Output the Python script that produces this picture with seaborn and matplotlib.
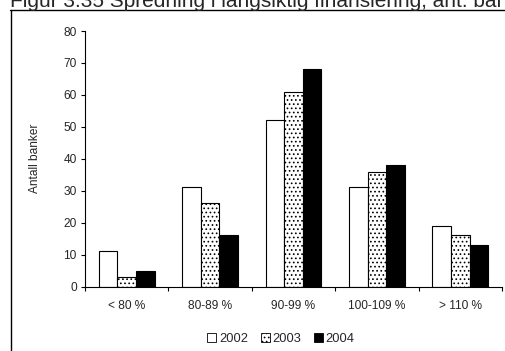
import matplotlib
matplotlib.use("Agg")
import matplotlib.pyplot as plt
from matplotlib.lines import Line2D
from matplotlib.patches import Patch
import seaborn as sns
import pandas as pd

# Spread in long-term funding ratio, number of banks per interval
categories = ["< 80 %", "80-89 %", "90-99 %", "100-109 %", "> 110 %"]
years = ["2002", "2003", "2004"]
banks_2002 = [11, 31, 52, 31, 19]
banks_2003 = [3, 26, 61, 36, 16]
banks_2004 = [5, 16, 68, 38, 13]
y_ticks = [0, 10, 20, 30, 40, 50, 60, 70, 80]
title = "Figur 3.35 Spredning i langsiktig finansiering, ant. banker"
y_label = "Antall banker"

df = pd.DataFrame({
    "kategori": categories * 3,
    "år": [years[0]] * 5 + [years[1]] * 5 + [years[2]] * 5,
    "antall": banks_2002 + banks_2003 + banks_2004,
})

sns.set_style("white")
plt.rcParams["font.family"] = ["Liberation Sans", "DejaVu Sans"]
plt.rcParams["hatch.linewidth"] = 0.7
plt.rcParams["hatch.color"] = "#444444"

W, H = 505, 351
fs = 8.6
fig = plt.figure(figsize=(W / 100, H / 100), dpi=100)
ax = fig.add_axes([85 / W, 1 - 286.5 / H, (502 - 85) / W, (286.5 - 31) / H])

fills = {"2002": "white", "2003": "white", "2004": "black"}
sns.barplot(data=df, x="kategori", y="antall", hue="år", order=categories,
            hue_order=years, palette=fills, width=0.67, edgecolor="black",
            linewidth=0.8, legend=False, ax=ax, saturation=1)

for bar in ax.containers[1]:
    bar.set_hatch("....")

ax.set_ylim(0, 80)
ax.set_xlim(-0.5, len(categories) - 0.5)
ax.set_yticks(y_ticks)
ax.set_xticks(range(len(categories)))
ax.set_xticklabels(categories)
ax.set_xticks([i - 0.5 for i in range(len(categories) + 1)], minor=True)
ax.set_xlabel("")
ax.set_ylabel(y_label, fontsize=fs, labelpad=16)
ax.tick_params(axis="y", which="major", direction="out", length=3, width=0.8,
               labelsize=fs, pad=3, left=True, color="black")
ax.tick_params(axis="x", which="major", length=0, labelsize=fs, pad=10)
ax.tick_params(axis="x", which="minor", direction="out", length=3, width=0.8,
               bottom=True, color="black")
for side in ["top", "right"]:
    ax.spines[side].set_visible(False)
for side in ["left", "bottom"]:
    ax.spines[side].set_color("black")
    ax.spines[side].set_linewidth(0.8)

handles = [Patch(facecolor="white", edgecolor="black", linewidth=0.6),
           Patch(facecolor="white", edgecolor="black", linewidth=0.6, hatch="...."),
           Patch(facecolor="black", edgecolor="black", linewidth=0.6)]
fig.legend(handles, years, loc="center", bbox_to_anchor=(281 / W, 1 - 339 / H),
           ncol=3, frameon=False, fontsize=9.3, handlelength=0.7,
           handleheight=0.7, handletextpad=0.2, columnspacing=1.0)

# Outer frame and caption
fig.add_artist(Line2D([10.5 / W, 10.5 / W], [0, 1 - 10 / H], color="black",
                      linewidth=1.0, transform=fig.transFigure))
fig.add_artist(Line2D([10 / W, 1], [1 - 10 / H, 1 - 10 / H], color="black",
                      linewidth=1.0, transform=fig.transFigure))
fig.text(10 / W, 1 - 7 / H, title, fontsize=15, ha="left", va="baseline")

fig.savefig("out.png", dpi=100)
